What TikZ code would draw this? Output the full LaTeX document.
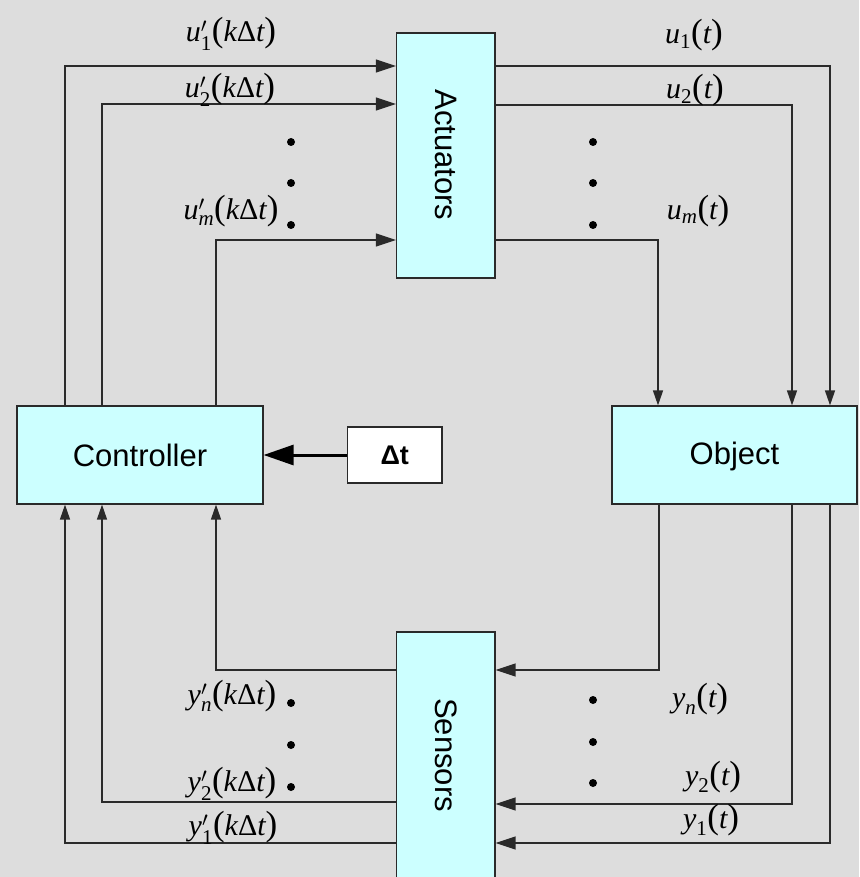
\documentclass[tikz,border=0pt]{standalone}
\usepackage{fontspec}
\usepackage{amsmath}
\setsansfont{Liberation Sans}
\newfontfamily\tms{Liberation Serif}
\usetikzlibrary{arrows.meta}
\definecolor{bg}{HTML}{DDDDDD}
\definecolor{boxfill}{HTML}{CCFFFF}
\definecolor{ln}{HTML}{2A2A2A}
\newcommand{\vi}[1]{\text{\tms\itshape #1}}
\newcommand{\vrm}[1]{\text{\tms #1}}
\newcommand{\kdt}{\vi{k}\vrm{Δ}\vi{t}}
\newcommand{\lp}{\mathopen{\text{\tms\fontsize{35}{35}\selectfont(}}}
\newcommand{\rp}{\mathclose{\text{\tms\fontsize{35}{35}\selectfont)}}}
\begin{document}
\begin{tikzpicture}[x=1pt,y=-1pt,
  blk/.style={draw=ln, fill=boxfill, line width=1.2pt, inner sep=0pt},
  blktext/.style={font=\sffamily\fontsize{31}{31}\selectfont, inner sep=0pt},
  sig/.style={draw=ln, line width=1.3pt, -{Triangle[length=20pt,width=13pt]}},
  sigv/.style={draw=ln, line width=1.3pt, -{Triangle[length=15pt,width=10pt]}},
  lab/.style={font=\fontsize{30}{30}\selectfont, inner sep=0pt},
  bdot/.style={circle, fill=black, inner sep=0pt, minimum size=8pt}]
\clip (0,0) rectangle (859,877);
\fill[bg] (0,0) rectangle (859,877);
% blocks
\node[blk, minimum width=98.5pt, minimum height=245pt] (act) at (445.75,155.5) {};
\node[blktext, rotate=-90] (acttext) at (445.75,155) {Actuators};
\node[blk, minimum width=98.5pt, minimum height=250pt] (sen) at (445.75,757) {};
\node[blktext, rotate=-90] (sentext) at (445.75,755) {Sensors};
\node[blk, minimum width=246pt, minimum height=98pt] (ctrl) at (140,455) {};
\node[blktext] (ctrltext) at (140,455) {Controller};
\node[blk, minimum width=245pt, minimum height=98pt] (obj) at (734.5,455) {};
\node[blktext] (objtext) at (734.5,456) {Object};
\node[draw=ln, fill=white, line width=1.2pt, minimum width=94.5pt, minimum height=56pt, inner sep=0pt,
      font=\sffamily\bfseries\fontsize{27}{27}\selectfont] (dt) at (394.75,455) {Δt};
% thick arrow
\draw[draw=black, line width=3pt, -{Triangle[length=30pt,width=20pt]}] (dt.west) -- (ctrl.east);
% controller -> actuators
\draw[sig] (ctrl.north -| 65,0) |- (act.west |- 0,66);
\draw[sig] (ctrl.north -| 102,0) |- (act.west |- 0,104);
\draw[sig] (ctrl.north -| 216,0) |- (act.west |- 0,240);
% actuators -> object
\draw[sigv] (act.east |- 0,66) -| (obj.north -| 830,0);
\draw[sigv] (act.east |- 0,105) -| (obj.north -| 792,0);
\draw[sigv] (act.east |- 0,240) -| (obj.north -| 658,0);
% object -> sensors
\draw[sig] (obj.south -| 659,0) |- (sen.east |- 0,670);
\draw[sig] (obj.south -| 792,0) |- (sen.east |- 0,804);
\draw[sig] (obj.south -| 830,0) |- (sen.east |- 0,843);
% sensors -> controller
\draw[sigv] (sen.west |- 0,670) -| (ctrl.south -| 216,0);
\draw[sigv] (sen.west |- 0,802) -| (ctrl.south -| 102,0);
\draw[sigv] (sen.west |- 0,843) -| (ctrl.south -| 65,0);
% labels
\node[lab] (lu1p) at (231,34) {$\vi{u}'_{\vrm{1}}\lp\kdt\rp$};
\node[lab] (lu2p) at (230,90) {$\vi{u}'_{\vrm{2}}\lp\kdt\rp$};
\node[lab] (lump) at (231,211) {$\vi{u}'_{\vi{m}}\lp\kdt\rp$};
\node[lab] (lu1) at (694,35) {$\vi{u}_{\vrm{1}}\lp\vi{t}\rp$};
\node[lab] (lu2) at (695,90) {$\vi{u}_{\vrm{2}}\lp\vi{t}\rp$};
\node[lab] (lum) at (698,211) {$\vi{u}_{\vi{m}}\lp\vi{t}\rp$};
\node[lab] (lynp) at (232,696) {$\vi{y}'_{\vi{n}}\lp\kdt\rp$};
\node[lab] (ly2p) at (232,784) {$\vi{y}'_{\vrm{2}}\lp\kdt\rp$};
\node[lab] (ly1p) at (233,828) {$\vi{y}'_{\vrm{1}}\lp\kdt\rp$};
\node[lab] (lyn) at (700,699) {$\vi{y}_{\vi{n}}\lp\vi{t}\rp$};
\node[lab] (ly2) at (713,777) {$\vi{y}_{\vrm{2}}\lp\vi{t}\rp$};
\node[lab] (ly1) at (711,820) {$\vi{y}_{\vrm{1}}\lp\vi{t}\rp$};
% dots
\node[bdot] (d1) at (291,142) {};
\node[bdot] (d2) at (291,183) {};
\node[bdot] (d3) at (291,225) {};
\node[bdot] (d4) at (593,142) {};
\node[bdot] (d5) at (593,183) {};
\node[bdot] (d6) at (593,225) {};
\node[bdot] (d7) at (291,703) {};
\node[bdot] (d8) at (291,745) {};
\node[bdot] (d9) at (291,787) {};
\node[bdot] (d10) at (593,700) {};
\node[bdot] (d11) at (593,742) {};
\node[bdot] (d12) at (593,783) {};
\end{tikzpicture}
\end{document}
